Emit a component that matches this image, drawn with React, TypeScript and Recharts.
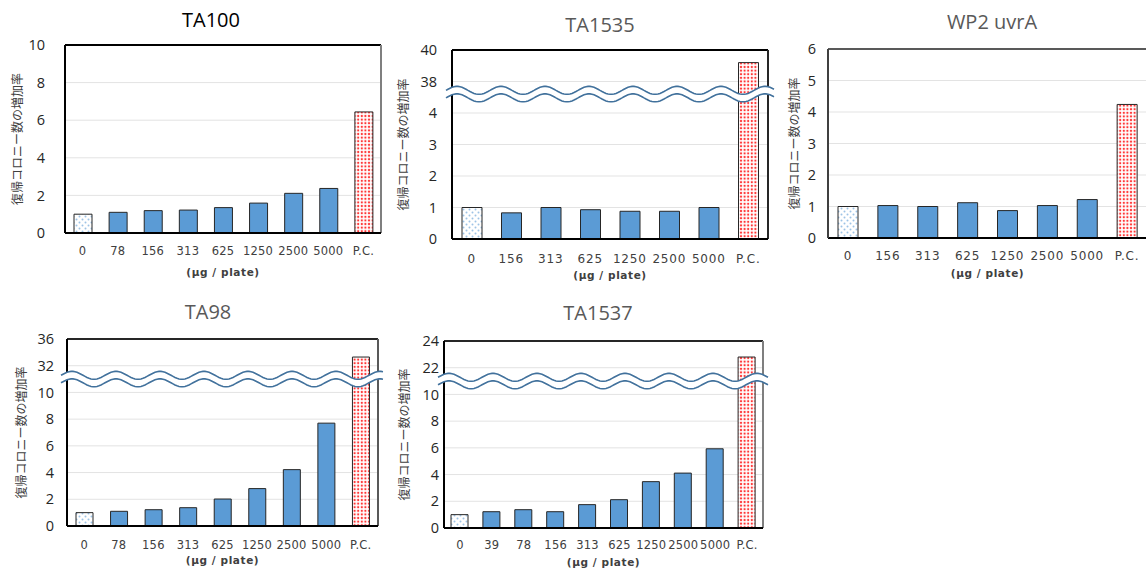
import React from 'react'
import { BarChart, Bar, XAxis, YAxis, CartesianGrid, Cell, ReferenceArea } from 'recharts'

// 復帰コロニー数の増加率 (fold increase vs. solvent control)
const ta100Doses = ['0', '78', '156', '313', '625', '1250', '2500', '5000', 'P.C.']
const ta100Ratio = [1.0, 1.1, 1.19, 1.22, 1.35, 1.59, 2.11, 2.37, 6.44]
const ta100Ticks = [0, 2, 4, 6, 8, 10]

const ta1535Doses = ['0', '156', '313', '625', '1250', '2500', '5000', 'P.C.']
const ta1535Ratio = [1.0, 0.83, 1.0, 0.93, 0.88, 0.88, 1.0, 39.2]
const ta1535Ticks = [0, 1, 2, 3, 4, 38, 40]

const wp2Doses = ['0', '156', '313', '625', '1250', '2500', '5000', 'P.C.']
const wp2Ratio = [1.0, 1.03, 1.0, 1.12, 0.87, 1.03, 1.22, 4.24]
const wp2Ticks = [0, 1, 2, 3, 4, 5, 6]

const ta98Doses = ['0', '78', '156', '313', '625', '1250', '2500', '5000', 'P.C.']
const ta98Ratio = [1.0, 1.1, 1.22, 1.37, 2.02, 2.8, 4.22, 7.7, 33.3]
const ta98Ticks = [0, 2, 4, 6, 8, 10, 32, 36]

const ta1537Doses = ['0', '39', '78', '156', '313', '625', '1250', '2500', '5000', 'P.C.']
const ta1537Ratio = [1.0, 1.22, 1.37, 1.22, 1.75, 2.12, 3.47, 4.11, 5.93, 22.8]
const ta1537Ticks = [0, 2, 4, 6, 8, 10, 22, 24]

const BLUE = '#5B9BD5'
const WAVE = '#41719C'

type Brk = { lowMax: number; upMin: number; upAt: number; upScale: number; at: number }

// maps a real value onto the broken axis
function toDisp(v: number, brk?: Brk) {
  if (!brk || v <= brk.lowMax) return v
  return brk.upAt + (v - brk.upMin) * brk.upScale
}

function WaveBreak(props: any) {
  const { x, y, width, height } = props
  const cy = y + height / 2
  const x0 = x - 6
  const x1 = x + width + 6
  const amp = 4
  const sep = 7.5
  const period = 44
  const top: string[] = []
  const bot: string[] = []
  for (let px = x0; px <= x1 + 0.01; px += 2) {
    const w = amp * Math.sin(((px - x0) / period) * Math.PI * 2)
    top.push(`${px.toFixed(1)},${(cy - sep / 2 - w).toFixed(1)}`)
    bot.push(`${px.toFixed(1)},${(cy + sep / 2 - w).toFixed(1)}`)
  }
  const fill = 'M' + top.join(' L') + ' L' + [...bot].reverse().join(' L') + ' Z'
  return (
    <g>
      <path d={fill} fill="#fff" stroke="none" />
      <path d={'M' + top.join(' L')} fill="none" stroke={WAVE} strokeWidth={1.6} />
      <path d={'M' + bot.join(' L')} fill="none" stroke={WAVE} strokeWidth={1.6} />
    </g>
  )
}

// top + right border of the plot box
function Frame(props: any) {
  const { x, y, width, height, topColor, rightColor } = props
  return (
    <g>
      <line x1={x} y1={y} x2={x + width} y2={y} stroke={topColor} strokeWidth={2} />
      <line x1={x + width} y1={y} x2={x + width} y2={y + height} stroke={rightColor} strokeWidth={2} />
    </g>
  )
}

type Panel = {
  id: string
  title: string
  titleColor: string
  titleX: number
  titleY: number
  doses: string[]
  values: number[]
  ticks: number[]
  brk?: Brk
  plotL: number
  plotT: number
  plotR: number
  plotB: number
  ox: number
  ylabX: number
  tickGap: number
  barSize: number
  xtickDelta: number
  xlabDelta: number
  topColor: string
  rightColor: string
}

const panels: Panel[] = [
  {
    id: 'ta100', title: 'TA100', titleColor: '#000', titleX: 211, titleY: 20,
    doses: ta100Doses, values: ta100Ratio, ticks: ta100Ticks,
    plotL: 65, plotT: 45, plotR: 381, plotB: 233, ox: 0, ylabX: 18, tickGap: 20, barSize: 18,
    xtickDelta: 18, xlabDelta: 39, topColor: '#000', rightColor: '#7f7f7f',
  },
  {
    id: 'ta1535', title: 'TA1535', titleColor: '#595959', titleX: 600, titleY: 25,
    doses: ta1535Doses, values: ta1535Ratio, ticks: ta1535Ticks,
    brk: { lowMax: 4, upMin: 38, upAt: 5, upScale: 0.5, at: 4.6 },
    plotL: 452, plotT: 50, plotR: 768, plotB: 239, ox: 390, ylabX: 404, tickGap: 15, barSize: 20,
    xtickDelta: 19, xlabDelta: 36, topColor: '#000', rightColor: '#262626',
  },
  {
    id: 'wp2', title: 'WP2 uvrA', titleColor: '#595959', titleX: 992, titleY: 22,
    doses: wp2Doses, values: wp2Ratio, ticks: wp2Ticks,
    plotL: 828, plotT: 49, plotR: 1147, plotB: 238, ox: 780, ylabX: 795, tickGap: 12, barSize: 20,
    xtickDelta: 17, xlabDelta: 35, topColor: '#595959', rightColor: '#595959',
  },
  {
    id: 'ta98', title: 'TA98', titleColor: '#595959', titleX: 208, titleY: 312,
    doses: ta98Doses, values: ta98Ratio, ticks: ta98Ticks,
    brk: { lowMax: 10, upMin: 32, upAt: 12, upScale: 0.5, at: 11 },
    plotL: 67, plotT: 339, plotR: 378, plotB: 526, ox: 0, ylabX: 22, tickGap: 13, barSize: 17,
    xtickDelta: 19, xlabDelta: 34, topColor: '#262626', rightColor: '#595959',
  },
  {
    id: 'ta1537', title: 'TA1537', titleColor: '#595959', titleX: 598, titleY: 313,
    doses: ta1537Doses, values: ta1537Ratio, ticks: ta1537Ticks,
    brk: { lowMax: 10, upMin: 22, upAt: 12, upScale: 1, at: 11 },
    plotL: 444, plotT: 341, plotR: 763, plotB: 528, ox: 390, ylabX: 405, tickGap: 5, barSize: 17,
    xtickDelta: 17, xlabDelta: 34, topColor: '#262626', rightColor: '#7f7f7f',
  },
]

function StrainChart({ p }: { p: Panel }) {
  const data = p.doses.map((d, i) => ({ dose: d, ratio: p.values[i], disp: toDisp(p.values[i], p.brk) }))
  const tickPos = p.ticks.map(t => toDisp(t, p.brk))
  const yMax = tickPos[tickPos.length - 1]
  const yW = p.plotL - p.ox
  const w = p.plotR - p.ox + 10
  const h = p.plotB - p.plotT + 10 + 50
  const last = data.length - 1
  const tight = data.length > 8

  return (
    <>
      <div style={{
        position: 'absolute', left: p.titleX, top: p.titleY - 12, transform: 'translateX(-50%)',
        fontFamily: 'Open Sans', fontSize: 20, lineHeight: '24px', color: p.titleColor, whiteSpace: 'nowrap',
      }}>{p.title}</div>
      <div style={{ position: 'absolute', left: p.ox, top: p.plotT - 10 }}>
        <BarChart width={w} height={h} data={data} margin={{ top: 10, right: 10, bottom: 0, left: 0 }} barSize={p.barSize}>
          <defs>
            <pattern id={`ctl-${p.id}`} width={6} height={6} patternUnits="userSpaceOnUse">
              <rect width={6} height={6} fill="#fff" />
              <circle cx={1.5} cy={1.5} r={1} fill="#9DC3E6" />
              <circle cx={4.5} cy={4.5} r={1} fill="#9DC3E6" />
            </pattern>
            <pattern id={`pc-${p.id}`} width={3.6} height={3.6} patternUnits="userSpaceOnUse">
              <rect width={3.6} height={3.6} fill="#fff" />
              <circle cx={1.8} cy={1.8} r={1.15} fill="#FF3535" />
            </pattern>
          </defs>
          <CartesianGrid vertical={false} stroke="#E3E3E3" />
          <ReferenceArea y1={0} y2={yMax} ifOverflow="visible" zIndex={450}
            shape={(sp: any) => <Frame {...sp} topColor={p.topColor} rightColor={p.rightColor} />} />
          <XAxis
            dataKey="dose" interval={0} tickLine={false} tickSize={6} tickMargin={p.xtickDelta - 10}
            axisLine={{ stroke: '#000', strokeWidth: 2 }}
            tick={{ fill: '#404040', fontSize: tight ? 11.5 : 12, fontFamily: 'DejaVu Sans', letterSpacing: tight ? 0.2 : 0.8 }}
            label={{
              value: '(μg / plate)', position: 'insideBottom', offset: 50 - (p.xlabDelta + 4),
              style: { fill: '#404040', fontSize: 10.5, fontWeight: 'bold', fontFamily: 'DejaVu Sans', letterSpacing: 0.6 },
            }}
            height={50}
          />
          <YAxis
            type="number" domain={[0, yMax]} ticks={tickPos} interval={0} allowDataOverflow
            tickFormatter={(_v: number, i: number) => String(p.ticks[i])}
            width={yW} tickLine={false} tickSize={6} tickMargin={p.tickGap - 6}
            axisLine={{ stroke: p.id === 'wp2' ? '#404040' : '#000', strokeWidth: 2 }}
            tick={{ fill: '#262626', fontSize: 14.5, fontFamily: 'Open Sans' }}
            label={{
              value: '復帰コロニー数の増加率', angle: -90, position: 'insideLeft', offset: p.ylabX - p.ox,
              style: { textAnchor: 'middle', fill: '#404040', fontSize: 12, fontFamily: 'Noto Sans CJK JP' },
            }}
          />
          <Bar dataKey="disp" stroke="#262626" strokeWidth={1} isAnimationActive={false}>
            {data.map((d, i) => (
              <Cell key={d.dose} fill={i === 0 ? `url(#ctl-${p.id})` : i === last ? `url(#pc-${p.id})` : BLUE} />
            ))}
          </Bar>
          {p.brk && (
            <ReferenceArea y1={p.brk.at - 0.2} y2={p.brk.at + 0.2} ifOverflow="visible" zIndex={1500}
              shape={(sp: any) => <WaveBreak {...sp} />} />
          )}
        </BarChart>
      </div>
    </>
  )
}

export default function App() {
  return (
    <div style={{ position: 'absolute', left: 0, top: 0, width: 1146, height: 570, overflow: 'hidden', background: '#fff' }}>
      {panels.map(p => <StrainChart key={p.id} p={p} />)}
    </div>
  )
}
